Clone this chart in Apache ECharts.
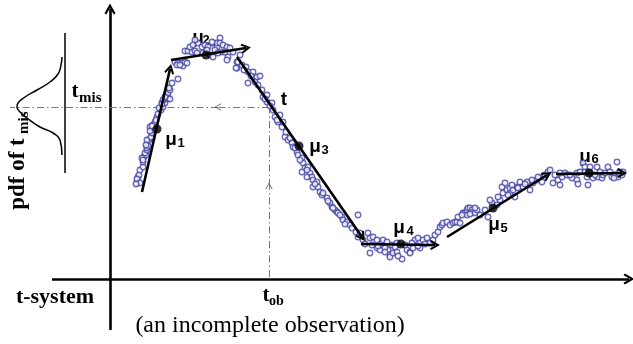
<!DOCTYPE html>
<html lang="en">
<head>
    <meta charset="UTF-8">
    <title>t-system</title>
    <style>
        html, body { margin: 0; padding: 0; background: #fff; }
        #chart { width: 633px; height: 344px; }
    </style>
    <script src="https://cdn.jsdelivr.net/npm/echarts@6/dist/echarts.min.js"></script>
</head>
<body>
    <div id="chart"></div>
    <script>
        // observed samples [time, value]
        var samples = [
            [27,94],[28,100],[29,102],[27,98],[30,107],[33,110],[33,115],[34,120],[36,122],[35,124],[32,119],
            [37,127],[37,129],[38,131],[39,137],[37,137],[42,139],[41,140],[42,144],[44,147],[40,150],[43,152],
            [45,155],[47,160],[48,163],[51,167],[53,170],[52,174],[55,174],[53,177],[57,178],[58,179],[60,178],
            [56,182],[58,184],[60,187],[59,189],[62,194],[68,198],
            [33,117],[36,132],[40,146],[42,151],[46,157],[49,169],[52,173],[55,180],[30,94],[26,93],
            [65,215],[68,214],[72,214],[73,211],[67,212],[75,215],[77,214],[75,226],[78,226],[82,225],[85,226],
            [87,224],[88,234],[85,237],[92,230],[93,224],[95,232],[98,230],[100,222],[103,220],[103,234],
            [107,230],[107,234],[110,239],[110,234],[112,225],[113,232],[117,230],[118,220],[117,217],[123,225],
            [127,215],[127,209],
            [80,230],[83,232],[97,227],[105,227],[115,225],[120,229],[130,222],[70,212],[102,235],[108,224],
            [126,209],[128,215],[132,212],[136,210],[138,205],[143,205],[138,194],[147,200],[150,201],[145,195],
            [148,192],[152,187],[153,180],[157,182],[157,175],[162,174],[163,167],[165,160],[170,162],[168,155],
            [173,155],[172,150],[175,140],[178,137],[182,134],[183,130],[187,125],[188,122],[192,119],[193,114],
            [195,109],[198,110],[192,105],[200,104],[197,100],[202,100],[203,97],[207,95],[203,90],[208,90],
            [210,85],[212,82],[217,79],[220,74],[222,70],[225,67],[227,65],[228,64],[232,60],[233,57],[237,55],
            [240,52],[248,62],[248,40],
            [134,207],[141,201],[155,178],[160,171],[167,157],[176,145],[180,139],[185,129],[190,117],[197,107],
            [205,93],[213,84],[218,76],[223,69],[230,62],[235,53],[242,49],[246,45],
            [250,44],[253,37],[258,44],[260,39],[260,24],[263,40],[267,37],[267,29],[270,27],[272,34],[273,37],
            [277,35],[278,27],[280,22],[280,20],[282,32],[283,24],[287,25],[287,34],[292,18],[297,27],[300,25],
            [300,24],[303,29],[305,37],[308,39],[310,29],[313,37],[317,39],[320,34],[323,37],[325,42],[328,45],
            [255,33],[262,32],[268,31],[275,29],[285,30],[295,32],[302,34],[308,31],[315,33],[288,21],[275,25],
            [330,50],[332,52],[333,54],[337,55],[340,52],[343,54],[345,55],[347,55],[350,54],[353,64],[355,64],
            [357,62],[357,67],[358,69],[360,69],[362,67],[363,65],[365,64],[367,67],[370,62],
            [378,60],[382,74],[387,72],[390,77],[393,84],[392,90],[395,94],[397,87],[400,84],[400,89],[403,87],
            [405,80],[407,90],[410,95],[413,90],[417,95],[420,87],[423,94],[427,97],[430,99],[435,102],[438,105],
            [440,107],[443,94],[445,102],[448,97],[450,92],[452,100],
            [348,60],[352,62],[360,63],[365,69],[375,67],[380,77],[388,80],[398,82],[402,92],[408,89],[415,93],
            [422,97],[428,100],[432,95],
            [455,104],[457,102],[462,99],[467,97],[467,104],[468,93],[473,114],[475,110],[477,100],[478,92],
            [480,104],[480,110],[483,99],[487,110],[488,100],[492,99],[493,102],[495,104],[498,110],[502,100],
            [505,102],[507,115],[508,100],[510,105],[512,102],
            [450,104],[460,102],[470,105],[485,102],[490,105],[500,105],[504,99],[509,104],[513,105],[475,105]
        ];

        // piecewise trend segments and their means
        var trendStart = [[32,85],[61,217],[127,220],[251,33],[337,40],[446,103]];
        var trendEnd = [[60,208],[136,229],[252,40],[325,32],[437,102],[512,104]];
        var means = [[47,148],[96,222],[189,131],[291,33],[383,69],[479,104]];

        // pdf of t_mis, drawn sideways
        var pdfCurve = [[-48,220],[-49,212],[-52,203],[-60,195],[-73,187],[-85,180],[-92,174],[-93,170],
            [-90,165],[-83,159],[-70,150],[-57,144],[-50,137],[-48,122]];
        var pdfBase = [[-45,244],[-45,104]];

        var tObs = 159, tMis = 170;

        var chevron = 'path://M50,0L100,88L84,100L50,40L16,100L0,88Z';
        var thinChevron = 'path://M50,0L100,90L92,100L50,18L8,100L0,90Z';

        var segs = trendStart.map(function (s, i) { return { coords: [s, trendEnd[i]] }; });

        var serif = '"Liberation Serif", "DejaVu Serif", serif';
        var sans = '"Liberation Sans", Arial, sans-serif';
        function txt(x, y, s, font, align) {
            return { type: 'text', x: x, y: y, silent: true,
                style: { text: s, font: font, fill: '#000', align: align || 'center', textAlign: align || 'center',
                    verticalAlign: 'middle', textVerticalAlign: 'middle' } };
        }
        var muLabels = [[171,140,181,143],[198,38,206,40],[315,147,325,150],[399,228,410,231],[494,225,504,228],[585,157,595,159]];
        var graphics = [];
        muLabels.forEach(function (m, i) {
            graphics.push(txt(m[0], m[1], 'μ', 'bold 19px ' + sans));
            graphics.push(txt(m[2], m[3], String(i + 1), 'bold 13px ' + sans));
        });
        graphics.push(txt(284, 100, 't', 'bold 19px ' + sans));
        graphics.push(txt(55, 297, 't-system', 'bold 22px ' + serif));
        graphics.push(txt(266, 296, 't', 'bold 21px ' + serif));
        graphics.push(txt(269, 301, 'ob', 'bold 14px ' + serif, 'left'));
        graphics.push(txt(270, 326, '(an incomplete observation)', '24px ' + serif));
        graphics.push(txt(75, 92, 't', 'bold 21px ' + serif));
        graphics.push(txt(79, 98, 'mis', 'bold 15px ' + serif, 'left'));
        graphics.push({ type: 'group', x: 18, y: 174, rotation: Math.PI / 2, children: [
            txt(0, 0, 'pdf of t', 'bold 23px ' + serif),
            txt(40, 6, 'mis', 'bold 15px ' + serif, 'left')
        ] });

        var chart = echarts.init(document.getElementById('chart'));
        chart.setOption({
            animation: false,
            grid: { left: 0, right: 0, top: 0, bottom: 0 },
            xAxis: { type: 'value', min: -110, max: 523, show: false },
            yAxis: { type: 'value', min: -67, max: 277, show: false },
            graphic: graphics,
            series: [
                {   // axes
                    type: 'lines', coordinateSystem: 'cartesian2d', silent: true, z: 1,
                    symbol: ['none', chevron], symbolSize: [13, 11],
                    lineStyle: { color: '#000', width: 2.6, opacity: 1 },
                    data: [{ coords: [[0, -53], [0, 268]] }, { coords: [[-58, -2], [519, -2]] }]
                },
                {   // dash-dot guides
                    type: 'lines', coordinateSystem: 'cartesian2d', silent: true, z: 2,
                    symbol: 'none',
                    lineStyle: { color: '#777', width: 1, type: [7, 3, 1.5, 3], opacity: 1 },
                    data: [{ coords: [[tObs, 0], [tObs, 91]] }, { coords: [[tObs, 91], [tObs, tMis]] },
                           { coords: [[tObs, tMis], [108, tMis]] }, { coords: [[108, tMis], [-100, tMis]] }]
                },
                {   // guide arrowheads
                    type: 'lines', coordinateSystem: 'cartesian2d', silent: true, z: 2,
                    symbol: ['none', thinChevron], symbolSize: [9, 7],
                    lineStyle: { color: '#555', width: 0, opacity: 1 },
                    data: [{ coords: [[tObs, 80], [tObs, 91]] }, { coords: [[118, tMis], [108, tMis]] }]
                },
                {
                    type: 'line', data: pdfCurve, smooth: 0.5, showSymbol: false, silent: true,
                    lineStyle: { color: '#000', width: 1.5 }
                },
                {
                    type: 'line', data: pdfBase, showSymbol: false, silent: true,
                    lineStyle: { color: '#000', width: 1.5 }
                },
                {
                    type: 'scatter', data: samples, symbol: 'circle', symbolSize: 5.5, silent: true, z: 3,
                    itemStyle: { color: '#fff', borderColor: '#4646a6', borderWidth: 1.4 }
                },
                {
                    type: 'lines', coordinateSystem: 'cartesian2d', silent: true, z: 4,
                    symbol: ['none', chevron], symbolSize: [11, 10],
                    lineStyle: { color: '#000', width: 2.6, opacity: 1 },
                    data: segs
                },
                {
                    type: 'scatter', data: means, symbol: 'circle', symbolSize: 9, silent: true, z: 5,
                    itemStyle: { color: '#000' }
                }
            ]
        });
    </script>
</body>
</html>
